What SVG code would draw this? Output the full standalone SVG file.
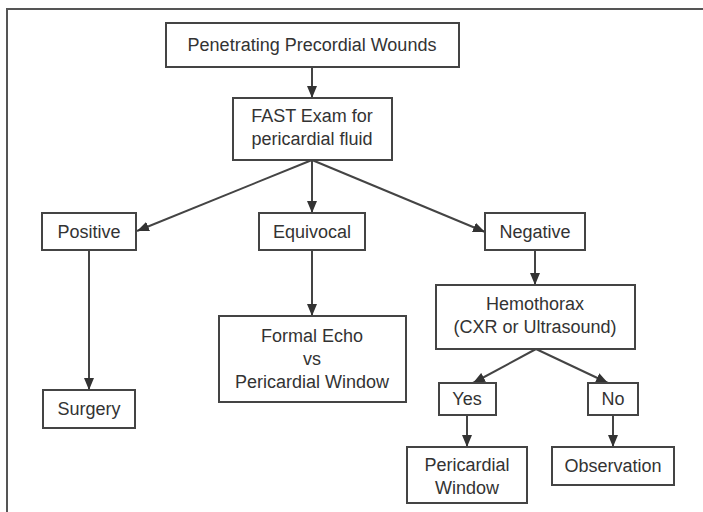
<svg xmlns="http://www.w3.org/2000/svg" width="703" height="512" viewBox="0 0 703 512">
<style>
.box{fill:#fff;stroke:#444;stroke-width:2}
.t{font-family:"Liberation Sans",Arial,sans-serif;font-size:18px;fill:#333;text-anchor:middle}
.c{fill:none;stroke:#444;stroke-width:2}
</style>
<defs>
<marker id="ah" markerUnits="userSpaceOnUse" markerWidth="12" markerHeight="10" viewBox="0 0 12 10" refX="12" refY="5" orient="auto">
<path d="M0,0 L12,5 L0,10 z" fill="#333"/>
</marker>
</defs>
<rect width="703" height="512" fill="#fff"/>
<path d="M7,512 V9 H703" fill="none" stroke="#555" stroke-width="2"/>
<g id="connectors">
<line class="c" x1="312" y1="67" x2="312" y2="98" marker-end="url(#ah)"/>
<line class="c" x1="312" y1="160" x2="137" y2="231" marker-end="url(#ah)"/>
<line class="c" x1="312" y1="160" x2="312" y2="213" marker-end="url(#ah)"/>
<line class="c" x1="312" y1="160" x2="485" y2="232" marker-end="url(#ah)"/>
<line class="c" x1="89" y1="250" x2="89" y2="390" marker-end="url(#ah)"/>
<line class="c" x1="312" y1="250" x2="312" y2="316" marker-end="url(#ah)"/>
<line class="c" x1="535" y1="250" x2="535" y2="285" marker-end="url(#ah)"/>
<line class="c" x1="536" y1="349" x2="473" y2="383" marker-end="url(#ah)"/>
<line class="c" x1="536" y1="349" x2="608" y2="383" marker-end="url(#ah)"/>
<line class="c" x1="467" y1="415" x2="467" y2="447" marker-end="url(#ah)"/>
<line class="c" x1="613" y1="415" x2="613" y2="447" marker-end="url(#ah)"/>
</g>
<g id="n_penetrating">
<rect class="box" x="166" y="23" width="293" height="44"/>
<text class="t" x="312" y="51">Penetrating Precordial Wounds</text>
</g>
<g id="n_fast">
<rect class="box" x="233" y="98" width="159" height="62"/>
<text class="t" x="312" y="122">FAST Exam for</text>
<text class="t" x="312" y="145">pericardial fluid</text>
</g>
<g id="n_positive">
<rect class="box" x="42" y="213" width="94" height="37"/>
<text class="t" x="89" y="238">Positive</text>
</g>
<g id="n_equivocal">
<rect class="box" x="259" y="213" width="106" height="37"/>
<text class="t" x="312" y="238">Equivocal</text>
</g>
<g id="n_negative">
<rect class="box" x="485" y="213" width="100" height="37"/>
<text class="t" x="535" y="238">Negative</text>
</g>
<g id="n_surgery">
<rect class="box" x="43" y="390" width="92" height="38"/>
<text class="t" x="89" y="415">Surgery</text>
</g>
<g id="n_formal">
<rect class="box" x="219" y="316" width="187" height="86"/>
<text class="t" x="312" y="342">Formal Echo</text>
<text class="t" x="312" y="365">vs</text>
<text class="t" x="312" y="388">Pericardial Window</text>
</g>
<g id="n_hemothorax">
<rect class="box" x="436" y="285" width="199" height="64"/>
<text class="t" x="535" y="310">Hemothorax</text>
<text class="t" x="535" y="333">(CXR or Ultrasound)</text>
</g>
<g id="n_yes">
<rect class="box" x="439" y="383" width="57" height="32"/>
<text class="t" x="467" y="405">Yes</text>
</g>
<g id="n_no">
<rect class="box" x="588" y="383" width="50" height="32"/>
<text class="t" x="613" y="405">No</text>
</g>
<g id="n_pwindow">
<rect class="box" x="407" y="447" width="120" height="56"/>
<text class="t" x="467" y="471">Pericardial</text>
<text class="t" x="467" y="494">Window</text>
</g>
<g id="n_observation">
<rect class="box" x="552" y="447" width="122" height="38"/>
<text class="t" x="613" y="472">Observation</text>
</g>
</svg>
